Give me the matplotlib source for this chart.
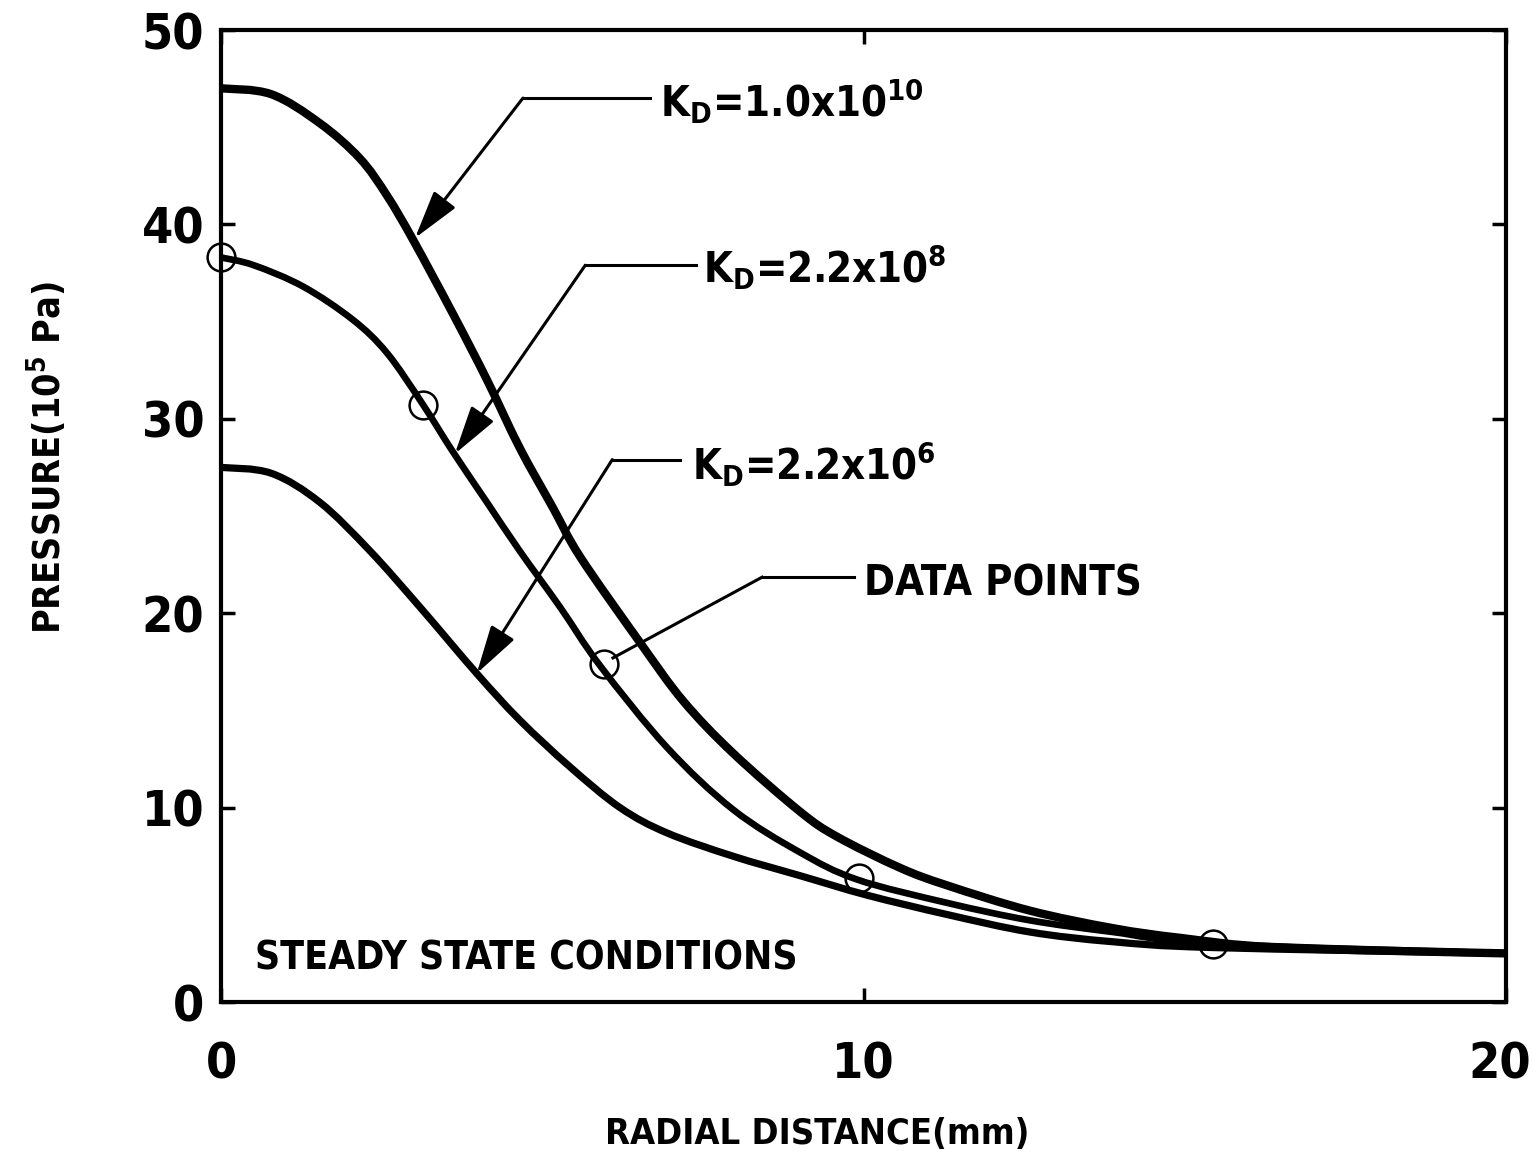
import matplotlib
matplotlib.use("Agg")
import matplotlib.pyplot as plt
from matplotlib.path import Path
from matplotlib.patches import PathPatch
from matplotlib.transforms import ScaledTranslation

plt.rcParams['font.family'] = ['DejaVu Sans']
plt.rcParams['font.weight'] = 'bold'
plt.rcParams['font.stretch'] = 'condensed'
plt.rcParams['mathtext.fontset'] = 'custom'
plt.rcParams['mathtext.rm'] = 'DejaVu Sans:weight=bold:stretch=condensed'
plt.rcParams['mathtext.it'] = 'DejaVu Sans:weight=bold:stretch=condensed'
plt.rcParams['mathtext.bf'] = 'DejaVu Sans:weight=bold:stretch=condensed'

# ---- data (radial distance in mm, pressure in 1e5 Pa) ----
x_k10 = [0, 0.78, 1.54, 2.16, 2.58, 2.99, 3.61, 4.14, 4.65, 5.17, 5.59, 6.52, 7.19,
         7.97, 9.01, 9.59, 10.57, 11.30, 12.59, 13.88, 14.93, 16.48, 20.0]
p_k10 = [47.0, 46.7, 45.2, 43.4, 41.5, 39.2, 35.4, 32.0, 28.5, 25.4, 22.9, 18.5, 15.5,
         12.8, 9.8, 8.5, 6.9, 6.0, 4.7, 3.8, 3.3, 2.8, 2.5]

x_k8 = [0, 0.51, 1.28, 2.05, 2.58, 3.13, 3.61, 4.14, 4.65, 5.28, 5.90, 6.94, 7.97,
        9.01, 9.90, 11.30, 12.59, 13.88, 15.44, 20.0]
p_k8 = [38.3, 37.9, 36.8, 35.1, 33.4, 30.8, 28.3, 25.7, 23.2, 20.3, 17.3, 13.1, 9.9,
        7.7, 6.3, 5.1, 4.2, 3.6, 3.0, 2.5]

x_k6 = [0, 0.78, 1.54, 2.32, 3.10, 3.98, 4.65, 5.43, 6.21, 6.94, 7.97, 9.01, 10.05,
        11.30, 12.59, 13.88, 15.44, 20.0]
p_k6 = [27.5, 27.2, 25.7, 23.2, 20.3, 16.9, 14.5, 12.1, 10.0, 8.7, 7.5, 6.5, 5.5,
        4.5, 3.6, 3.1, 2.8, 2.5]

x_data = [0, 3.14, 5.96, 9.93, 15.44]
p_data = [38.3, 30.7, 17.4, 6.4, 3.0]

x_ticks = [0, 10, 20]
y_ticks = [0, 10, 20, 30, 40, 50]

labels = [r"K$_D$=1.0x10$^{10}$", r"K$_D$=2.2x10$^8$", r"K$_D$=2.2x10$^6$"]


def smooth_path(xs, ys):
    """Catmull-Rom curve through the given points, drawn as cubic Bezier segments."""
    pts = list(zip(xs, ys))
    verts = [pts[0]]
    codes = [Path.MOVETO]
    n = len(pts)
    for i in range(n - 1):
        p0 = pts[i - 1] if i > 0 else pts[i]
        p1 = pts[i]
        p2 = pts[i + 1]
        p3 = pts[i + 2] if i + 2 < n else pts[i + 1]
        c1 = (p1[0] + (p2[0] - p0[0]) / 6.0, p1[1] + (p2[1] - p0[1]) / 6.0)
        c2 = (p2[0] - (p3[0] - p1[0]) / 6.0, p2[1] - (p3[1] - p1[1]) / 6.0)
        verts += [c1, c2, p2]
        codes += [Path.CURVE4] * 3
    return Path(verts, codes)


fig = plt.figure(figsize=(15.34, 11.68), dpi=100)
ax = fig.add_axes([221/1534, 1 - 1002/1168, 1285/1534, 972/1168])

for xs, ys, lw in [(x_k10, p_k10, 6.0), (x_k8, p_k8, 4.8), (x_k6, p_k6, 5.2)]:
    ax.add_patch(PathPatch(smooth_path(xs, ys), facecolor='none', edgecolor='black',
                           lw=lw, capstyle='butt', clip_on=False))
ax.plot(x_data, p_data, linestyle='none', marker='o', markersize=20,
        markerfacecolor='none', markeredgecolor='black', markeredgewidth=1.8,
        clip_on=False, zorder=5)

ax.set_xlim(0, 20)
ax.set_ylim(0, 50)
ax.set_xticks(x_ticks)
ax.set_yticks(y_ticks)
ax.set_xticklabels([str(v) for v in x_ticks])
ax.set_yticklabels([str(v) for v in y_ticks])
ax.tick_params(axis='both', direction='in', length=10, width=2.5, labelsize=36)
ax.tick_params(axis='y', right=True, pad=12)
ax.tick_params(axis='x', top=True, pad=28)
for s in ax.spines.values():
    s.set_linewidth(3)
last = ax.get_xticklabels()[-1]
last.set_transform(last.get_transform() + ScaledTranslation(-6/100, 0, fig.dpi_scale_trans))

ax.set_xlabel("RADIAL DISTANCE(mm)", fontsize=26, fontweight='bold')
ax.xaxis.set_label_coords(0.464, -0.118)
ax.set_ylabel(r"PRESSURE(10$^5$ Pa)", fontsize=27, fontweight='bold')
ax.yaxis.set_label_coords(-0.118, 0.56)

# annotations: (text, text pos, leader start, corner, tip, arrowhead?)
ann = [
    (labels[0], (6.84, 45.5), (6.68, 46.5), (4.70, 46.5), (3.02, 39.3), True),
    (labels[1], (7.50, 36.97), (7.40, 37.9), (5.67, 37.9), (3.64, 28.2), True),
    (labels[2], (7.33, 26.84), (7.15, 27.9), (6.09, 27.9), (3.98, 16.9), True),
    ("DATA POINTS", (10.0, 20.9), (9.85, 21.85), (8.42, 21.85), (6.10, 17.7), False),
]
for txt, tpos, lstart, corner, tip, arrow in ann:
    ax.text(tpos[0], tpos[1], txt, fontsize=30, fontweight='bold', ha='left', va='baseline')
    ax.plot([lstart[0], corner[0]], [lstart[1], corner[1]], color='black', lw=2.2)
    if arrow:
        ax.annotate("", xy=tip, xytext=corner,
                    arrowprops=dict(arrowstyle='-|>,head_length=1.5,head_width=0.42',
                                    color='black', lw=2.2, shrinkA=0, shrinkB=0,
                                    mutation_scale=20))
    else:
        ax.plot([corner[0], tip[0]], [corner[1], tip[1]], color='black', lw=2.2)

ax.text(0.53, 1.65, "STEADY STATE CONDITIONS", fontsize=28, fontweight='bold',
        ha='left', va='baseline')

fig.savefig("out.png", dpi=100)
